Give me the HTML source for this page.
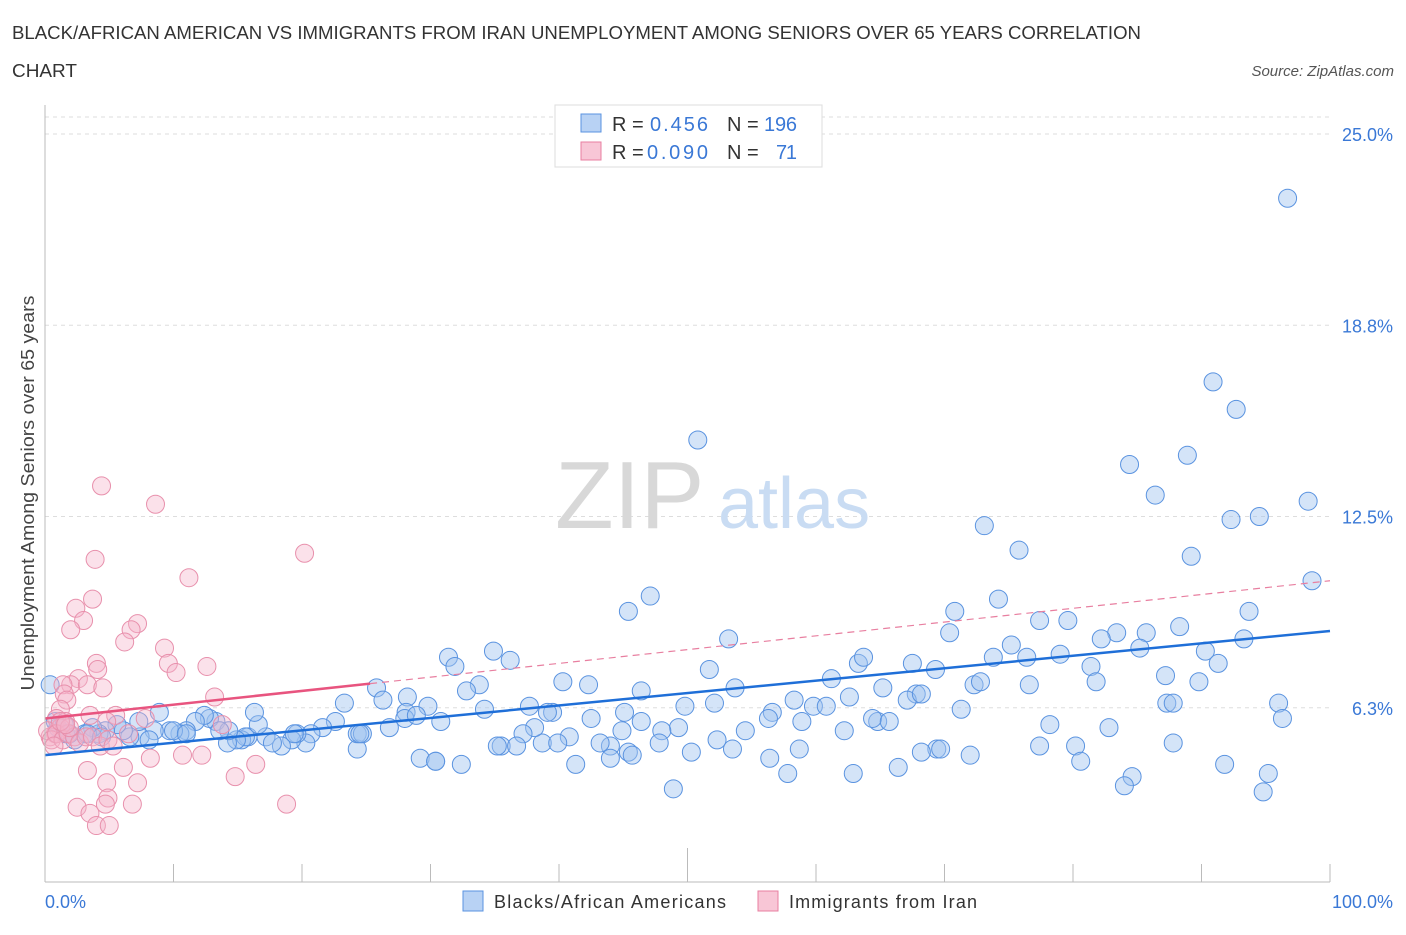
<!DOCTYPE html>
<html><head><meta charset="utf-8"><style>
body{margin:0;background:#fff;font-family:"Liberation Sans",sans-serif;}
svg text{font-family:"Liberation Sans",sans-serif;}
</style></head><body>
<svg id="chart" width="1406" height="930" viewBox="0 0 1406 930">
<text x="12" y="39" font-size="18" fill="#333" textLength="1129" lengthAdjust="spacingAndGlyphs">BLACK/AFRICAN AMERICAN VS IMMIGRANTS FROM IRAN UNEMPLOYMENT AMONG SENIORS OVER 65 YEARS CORRELATION</text>
<text x="12" y="77" font-size="18" fill="#333" textLength="65" lengthAdjust="spacingAndGlyphs">CHART</text>
<text x="1394" y="76" font-size="15" fill="#555" font-style="italic" text-anchor="end">Source: ZipAtlas.com</text>
<text transform="translate(34,493) rotate(-90)" font-size="18" fill="#444" text-anchor="middle" textLength="395" lengthAdjust="spacingAndGlyphs">Unemployment Among Seniors over 65 years</text>
<g id="grid"></g>
<text x="555" y="528" font-size="96" font-family="Liberation Serif" fill="#d8d8d8">ZIP</text>
<text x="718" y="528" font-size="72" fill="#c9dcf3">atlas</text>
<g id="pts"></g>
<g id="lines"></g>
<g id="axes"></g>
<g>
<rect x="555" y="105" width="267" height="62" fill="#fff" stroke="#ddd"/>
<rect x="581" y="114" width="20" height="18" fill="#b8d2f4" stroke="#5a93e0"/>
<rect x="581" y="142" width="20" height="18" fill="#f8c6d6" stroke="#e87fa0"/>
<text x="612" y="131" font-size="20" fill="#333">R = </text><text x="650" y="131" font-size="20" fill="#3a78d6" textLength="58">0.456</text>
<text x="727" y="131" font-size="20" fill="#333">N = </text><text x="764" y="131" font-size="20" fill="#3a78d6" textLength="33">196</text>
<text x="612" y="159" font-size="20" fill="#333">R = </text><text x="647" y="159" font-size="20" fill="#3a78d6" textLength="61">0.090</text>
<text x="727" y="159" font-size="20" fill="#333">N = </text><text x="776" y="159" font-size="20" fill="#3a78d6" textLength="21">71</text>
</g>
<g>
<rect x="463" y="891" width="20" height="20" fill="#b8d2f4" stroke="#5a93e0"/>
<text x="494" y="908" font-size="18" fill="#333" textLength="232">Blacks/African Americans</text>
<rect x="758" y="891" width="20" height="20" fill="#f8c6d6" stroke="#e87fa0"/>
<text x="789" y="908" font-size="18" fill="#333" textLength="188">Immigrants from Iran</text>
</g>
</svg>
<script>
const yTicks=[25.0,18.8,12.5,6.3];
const yTickValues=[25,18.75,12.5,6.25];
const xTickLabels=["0.0%","100.0%"];
const blueX=[96.7,90.9,92.7,50.8,84.4,88.9,86.4,98.3,94.5,92.3,73.1,75.8,89.2,98.6,47.1,45.4,70.8,74.2,93.7,79.6,77.4,88.3,85.7,83.4,82.2,93.3,70.4,53.2,75.2,79.0,85.2,90.3,76.4,91.3,63.3,63.7,67.5,69.3,51.7,73.8,81.4,87.2,81.8,61.2,72.3,72.8,76.6,89.8,65.2,53.7,46.4,42.3,40.3,31.4,31.9,34.9,36.2,33.8,32.8,25.8,23.3,28.2,26.3,28.1,29.8,37.7,39.5,39.1,34.2,30.8,28.0,26.8,28.9,42.5,45.1,44.9,46.4,52.1,49.8,58.3,56.6,58.9,59.8,60.8,56.3,62.6,67.8,67.1,68.2,62.2,64.8,64.4,65.7,71.3,87.3,87.8,96.0,96.3,78.2,82.8,87.8,77.4,80.2,69.4,68.2,69.7,72.0,80.6,91.8,84.6,84.0,95.2,94.8,62.9,66.4,57.8,48.9,56.4,58.7,54.5,53.5,52.3,50.3,49.3,48.0,47.8,45.4,44.0,43.2,44.0,45.7,41.3,40.8,38.7,38.1,37.2,35.5,35.2,36.7,32.4,29.2,30.4,24.3,24.3,24.7,22.6,21.6,20.7,20.3,19.6,19.2,18.4,17.2,17.7,15.8,15.3,15.6,14.9,14.2,16.6,16.3,13.3,12.8,12.4,11.7,11.0,10.5,9.7,8.5,7.4,8.1,6.6,6.1,5.6,4.7,4.2,3.7,3.1,2.3,1.6,1.0,0.8,0.4,1.5,1.9,8.9,10.0,11.0,14.3,13.6,7.3,19.4,3.3,4.4,24.5,30.4,39.9];
const blueY=[22.9,16.9,16.0,15.0,14.2,14.5,13.2,13.0,12.5,12.4,12.2,11.4,11.2,10.4,9.9,9.4,9.4,9.8,9.4,9.1,9.1,8.9,8.7,8.7,8.5,8.5,8.7,8.5,8.3,8.0,8.2,8.1,7.9,7.7,7.7,7.9,7.7,7.5,7.5,7.9,7.6,7.3,7.1,7.2,7.0,7.1,7.0,7.1,6.9,6.9,6.8,7.0,7.1,7.9,7.6,8.1,7.8,7.0,6.8,6.9,6.4,6.6,6.5,6.1,6.3,6.3,6.1,6.1,6.2,5.8,5.9,5.6,6.0,5.9,6.1,5.5,5.8,6.4,6.3,6.5,6.1,5.8,6.3,6.3,5.9,6.6,6.7,6.5,6.7,5.5,5.8,5.9,5.8,6.2,6.4,6.4,6.4,5.9,5.7,5.6,5.1,5.0,5.0,4.9,4.8,4.9,4.7,4.5,4.4,4.0,3.7,4.1,3.5,4.1,4.3,4.1,3.6,4.6,4.9,5.5,4.9,5.2,4.8,5.6,5.5,5.1,4.8,5.0,5.1,4.6,4.7,4.4,5.3,5.1,5.6,5.4,5.0,5.0,5.0,4.4,4.6,4.5,4.9,5.4,5.4,5.8,5.6,5.4,5.1,5.4,5.2,5.0,5.3,5.1,5.3,5.2,5.3,5.2,5.1,5.7,6.1,5.8,5.9,6.0,5.8,5.5,5.4,5.5,5.5,5.3,5.2,5.3,5.5,5.7,5.5,5.4,5.6,5.4,5.2,5.4,5.6,5.8,7.0,5.7,5.4,6.1,5.5,5.4,5.5,5.5,5.8,5.4,5.4,5.3,5.4,4.5,5.1];
const pinkX=[4.4,8.6,3.9,20.2,11.2,3.7,2.4,7.2,6.7,3.0,2.0,6.2,9.3,9.6,10.2,4.0,12.6,4.1,2.6,2.0,3.3,4.5,1.4,1.5,1.7,1.2,13.2,0.9,3.5,5.5,4.8,13.8,1.6,1.2,0.8,0.4,0.2,0.5,0.9,1.4,1.8,2.3,2.7,3.2,3.7,1.9,4.3,4.9,6.5,7.8,10.7,12.2,8.2,3.3,6.1,16.4,14.8,7.2,4.8,4.9,4.7,6.8,2.5,3.5,4.0,5.0,18.8,0.7,1.2,5.3,1.6];
const pinkY=[13.5,12.9,11.1,11.3,10.5,9.8,9.5,9.0,8.8,9.1,8.8,8.4,8.2,7.7,7.4,7.7,7.6,7.5,7.2,7.0,7.0,6.9,7.0,6.7,6.5,6.2,6.6,5.9,6.0,6.0,5.8,5.7,5.8,5.6,5.4,5.3,5.5,5.2,5.4,5.2,5.4,5.3,5.1,5.3,5.3,5.6,5.0,5.2,5.4,5.9,4.7,4.7,4.6,4.2,4.3,4.4,4.0,3.8,3.8,3.3,3.1,3.1,3.0,2.8,2.4,2.4,3.1,5.0,5.8,5.0,5.7];
const blueTrend=[4.7,8.76];
const pinkTrend=[5.9,10.4];
const pinkSolidEnd=25.3;

const NS="http://www.w3.org/2000/svg";
const X0=45,X1=1330,Y0=899,PPU=30.6;
function sx(v){return X0+v*(X1-X0)/100;}
function sy(v){return Y0-v*PPU;}
function mk(tag,attrs,parent){const e=document.createElementNS(NS,tag);for(const k in attrs)e.setAttribute(k,attrs[k]);parent.appendChild(e);return e;}

const grid=document.getElementById('grid');
const tl=mk('line',{x1:X0,x2:X1,y1:117,y2:117,stroke:'#ddd','stroke-dasharray':'4,4'},grid);


yTickValues.forEach((v,i)=>{
  const l=mk('line',{x1:X0,x2:X1,y1:sy(v),y2:sy(v),stroke:'#ddd','stroke-dasharray':'4,4'},grid);
  
  
  const t=mk('text',{x:1393,y:sy(v)+7,'font-size':18,fill:'#3a78d6','text-anchor':'end'},grid);
  t.textContent=yTicks[i].toFixed(1)+'%';
  
  
});

const axes=document.getElementById('axes');
const ya=mk('line',{x1:X0,x2:X0,y1:105,y2:882,stroke:'#bbb'},axes);


const xa=mk('line',{x1:X0,x2:X1,y1:882,y2:882,stroke:'#bbb'},axes);


for(let i=0;i<=10;i++){
  const tk=mk('line',{x1:sx(i*10),x2:sx(i*10),y1:i==5?848:864,y2:882,stroke:'#bbb'},axes);
  
  
}
const xl0=mk('text',{x:45,y:908,'font-size':18,fill:'#3a78d6'},axes);
xl0.textContent=xTickLabels[0];


const xl1=mk('text',{x:1393,y:908,'font-size':18,fill:'#3a78d6','text-anchor':'end'},axes);
xl1.textContent=xTickLabels[1];



const pts=document.getElementById('pts');
blueX.forEach((x,i)=>{
  const c=mk('circle',{cx:sx(x),cy:sy(blueY[i]),r:9,fill:'rgba(160,196,240,0.45)',stroke:'#5a93e0','stroke-width':1},pts);
  
  
});
pinkX.forEach((x,i)=>{
  const c=mk('circle',{cx:sx(x),cy:sy(pinkY[i]),r:9,fill:'rgba(246,180,202,0.4)',stroke:'#e890ac','stroke-width':1},pts);
  
  
});

const lines=document.getElementById('lines');
const bl=mk('line',{x1:sx(0),y1:sy(blueTrend[0]),x2:sx(100),y2:sy(blueTrend[1]),stroke:'#1f6fd8','stroke-width':2.5},lines);


const pAt=v=>pinkTrend[0]+(pinkTrend[1]-pinkTrend[0])*v/100;
const pd=mk('line',{x1:sx(pinkSolidEnd),y1:sy(pAt(pinkSolidEnd)),x2:sx(100),y2:sy(pAt(100)),stroke:'#e87fa0','stroke-width':1.2,'stroke-dasharray':'7,5'},lines);


const ps=mk('line',{x1:sx(0),y1:sy(pAt(0)),x2:sx(pinkSolidEnd),y2:sy(pAt(pinkSolidEnd)),stroke:'#e8547f','stroke-width':2.5},lines);


</script>
</body></html>
